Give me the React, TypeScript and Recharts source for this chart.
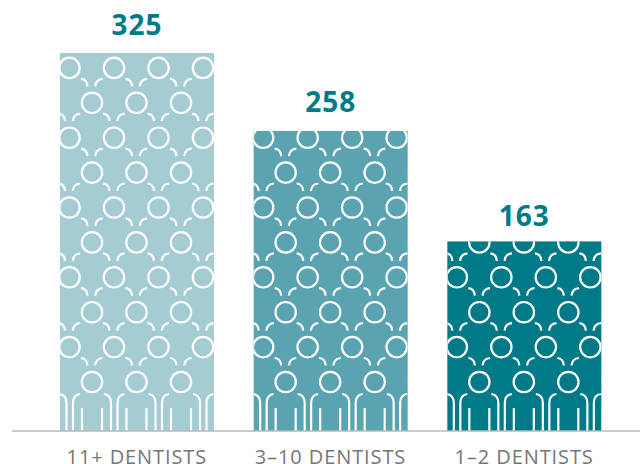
import { BarChart, Bar, XAxis, YAxis, Cell, LabelList } from 'recharts'

const categories = ['11+ DENTISTS', '3–10 DENTISTS', '1–2 DENTISTS']
const counts = [325, 258, 163]
const barColors = ['#a5cbd3', '#5aa3b0', '#007a87']
const labelGaps = [18, 19, 15]

const data = categories.map((name, i) => ({ name, count: counts[i] }))

// people pattern, measured from the bottom left corner of a bar
const COL_STEP = 44.5
const ROW_STEP = 34.9
const BOTTOM_ROW = 49
const BODY_H = 37
const ODD_COL = 32
const EVEN_COL = 9.5

function Head({ x, y }: { x: number; y: number }) {
  return (
    <g transform={`translate(${x},${y})`}>
      <circle r={10.2} />
      <path d="M-11,-24 Q-5,-23.5 -4.5,-16.5" />
      <path d="M10.7,-24 Q4,-23.5 3.2,-16.5" />
    </g>
  )
}

function Body({ x }: { x: number }) {
  return (
    <g transform={`translate(${x},${-BODY_H})`}>
      <path d="M-19,37 V9 Q-19,1 -12,0" />
      <path d="M19,37 V9 Q19,1 12,0" />
      <path d="M-10,37 V14" />
      <path d="M10,37 V14" />
    </g>
  )
}

function PatternBar(props: any) {
  const { x, y, width, height, fill, index } = props
  const rows = Math.ceil((height + 30) / ROW_STEP)
  const heads: any[] = []
  for (let r = 0; r < rows; r++) {
    const start = r % 2 === 0 ? ODD_COL : EVEN_COL
    for (let c = 0; start + c * COL_STEP < width + 12; c++) {
      heads.push(<Head key={`${r}-${c}`} x={start + c * COL_STEP} y={-BOTTOM_ROW - r * ROW_STEP} />)
    }
  }
  const bodies: any[] = []
  for (let c = -1; ODD_COL + c * COL_STEP < width + 20; c++) {
    bodies.push(<Body key={c} x={ODD_COL + c * COL_STEP} />)
  }
  return (
    <g transform={`translate(${x},${y + height})`}>
      <clipPath id={`bar-clip-${index}`}>
        <rect x={0} y={-height} width={width} height={height} />
      </clipPath>
      <rect x={0} y={-height} width={width} height={height} fill={fill} />
      <g clipPath={`url(#bar-clip-${index})`} fill="none" stroke="#fff" strokeWidth={2.2}>
        {heads}
        {bodies}
      </g>
    </g>
  )
}

function CountLabel(props: any) {
  const { x, y, width, value, index } = props
  return (
    <text
      x={x + width / 2}
      y={y - labelGaps[index]}
      textAnchor="middle"
      fill="#007a87"
      fontSize={28}
      fontWeight={700}
      letterSpacing={1}
    >
      {value}
    </text>
  )
}

export default function App() {
  return (
    <div style={{ position: 'absolute', left: 0, top: 0, width: 640, height: 464, fontFamily: '"Open Sans", sans-serif' }}>
      <BarChart width={640} height={464} data={data} margin={{ top: 53, right: 0, bottom: 0, left: 12 }}>
        <XAxis
          dataKey="name"
          height={33}
          padding={{ left: 28, right: 19 }}
          axisLine={{ stroke: '#b9b9b9', strokeWidth: 1.5 }}
          tickLine={false}
          tickMargin={13}
          interval={0}
          tick={{ fontSize: 20, fill: '#767676', letterSpacing: 0.9 }}
        />
        <YAxis hide domain={[0, 325]} />
        <Bar dataKey="count" barSize={154} isAnimationActive={false} shape={<PatternBar />}>
          {data.map((d, i) => <Cell key={d.name} fill={barColors[i]} />)}
          <LabelList dataKey="count" content={<CountLabel />} />
        </Bar>
      </BarChart>
    </div>
  )
}
